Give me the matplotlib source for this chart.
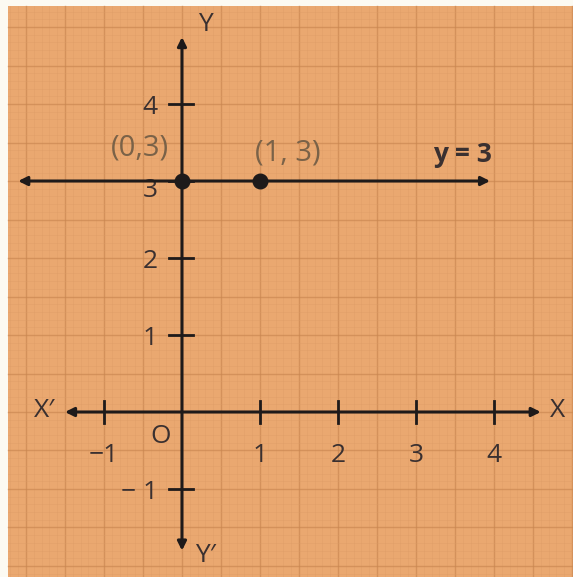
import matplotlib
matplotlib.use("Agg")
import matplotlib.pyplot as plt
import numpy as np
from matplotlib.patches import Rectangle, FancyArrowPatch

PAPER = "#EAA870"
INK = "#1E1A1A"
LABEL = "#3A3030"
SOFT = "#7A6248"
FONT = "Open Sans"

# datos
x_ticks = [-1, 1, 2, 3, 4]
x_tick_labels = ["\u22121", "1", "2", "3", "4"]
y_ticks = [-1, 1, 2, 3, 4]
y_tick_labels = ["\u2212 1", "1", "2", "3", "4"]
line_value = 3
pts_x = [0, 1]
pts_y = [3, 3]
pts_labels = ["(0,3)", "(1, 3)"]

fig = plt.figure(figsize=(5.73, 5.77), dpi=100)
ax = fig.add_axes([0, 0, 1, 1])
ax.set_xlim(-2.333, 5.013)
ax.set_ylim(-2.143, 5.351)
ax.set_axis_off()

# papel milimetrado
x0, x1, y0, y1 = -2.231, 5.013, -2.143, 5.273
ax.add_patch(Rectangle((x0, y0), x1 - x0, y1 - y0, facecolor=PAPER, edgecolor="none", zorder=0))
for v in np.arange(-2.2, 5.05, 0.1):
    major = abs(v * 2 - round(v * 2)) < 1e-6
    ax.plot([v, v], [y0, y1], color="#C98650" if major else "#DC9C66",
            lw=1.0 if major else 0.5, alpha=0.65 if major else 0.5, zorder=1)
for v in np.arange(-2.1, 5.3, 0.1):
    major = abs(v * 2 - round(v * 2)) < 1e-6
    ax.plot([x0, x1], [v, v], color="#C98650" if major else "#DC9C66",
            lw=1.0 if major else 0.5, alpha=0.65 if major else 0.5, zorder=1)


def arrow(p, q):
    ax.add_patch(FancyArrowPatch(p, q, arrowstyle="<|-|>", mutation_scale=13,
                                 color=INK, lw=2.2, shrinkA=0, shrinkB=0, zorder=4))


# ejes y recta y = 3
arrow((-1.5, 0), (4.6, 0))
arrow((0, -1.8), (0, 4.87))
arrow((-2.1, line_value), (3.95, line_value))

# marcas de los ejes
for t in x_ticks:
    ax.plot([t, t], [-0.14, 0.14], color=INK, lw=2.0, zorder=4)
for t in y_ticks:
    ax.plot([-0.17, 0.14], [t, t], color=INK, lw=2.0, zorder=4)

font = dict(family=FONT, fontsize=19, color=LABEL)
for t, s in zip(x_ticks, x_tick_labels):
    ax.text(t, -0.56, s, ha="center", va="center", **font, zorder=3)
for t, s in zip(y_ticks, y_tick_labels):
    dy = -0.12 if t == 3 else -0.04
    dx = -0.55 if t == -1 else -0.41
    ax.text(dx, t + dy, s, ha="center", va="center", **font, zorder=3)

ax.text(-0.27, -0.32, "O", ha="center", va="center", **font)
ax.text(-1.76, 0.02, "X\u2032", ha="center", va="center", **font)
ax.text(4.81, 0.02, "X", ha="center", va="center", **font)
ax.text(0.3, 5.03, "Y", ha="center", va="center", **font)
ax.text(0.3, -1.87, "Y\u2032", ha="center", va="center", **font)

# puntos
ax.scatter(pts_x, pts_y, s=110, color=INK, zorder=5)
ax.text(-0.54, 3.43, pts_labels[0], ha="center", va="center",
        family=FONT, fontsize=21, color=SOFT)
ax.text(1.36, 3.37, pts_labels[1], ha="center", va="center",
        family=FONT, fontsize=21, color=SOFT)
ax.text(3.6, 3.35, "y = 3", ha="center", va="center", family=FONT,
        fontsize=19, fontweight="bold", color=LABEL)

fig.savefig("out.png", dpi=100, facecolor="#FCFAF2")
plt.close(fig)
